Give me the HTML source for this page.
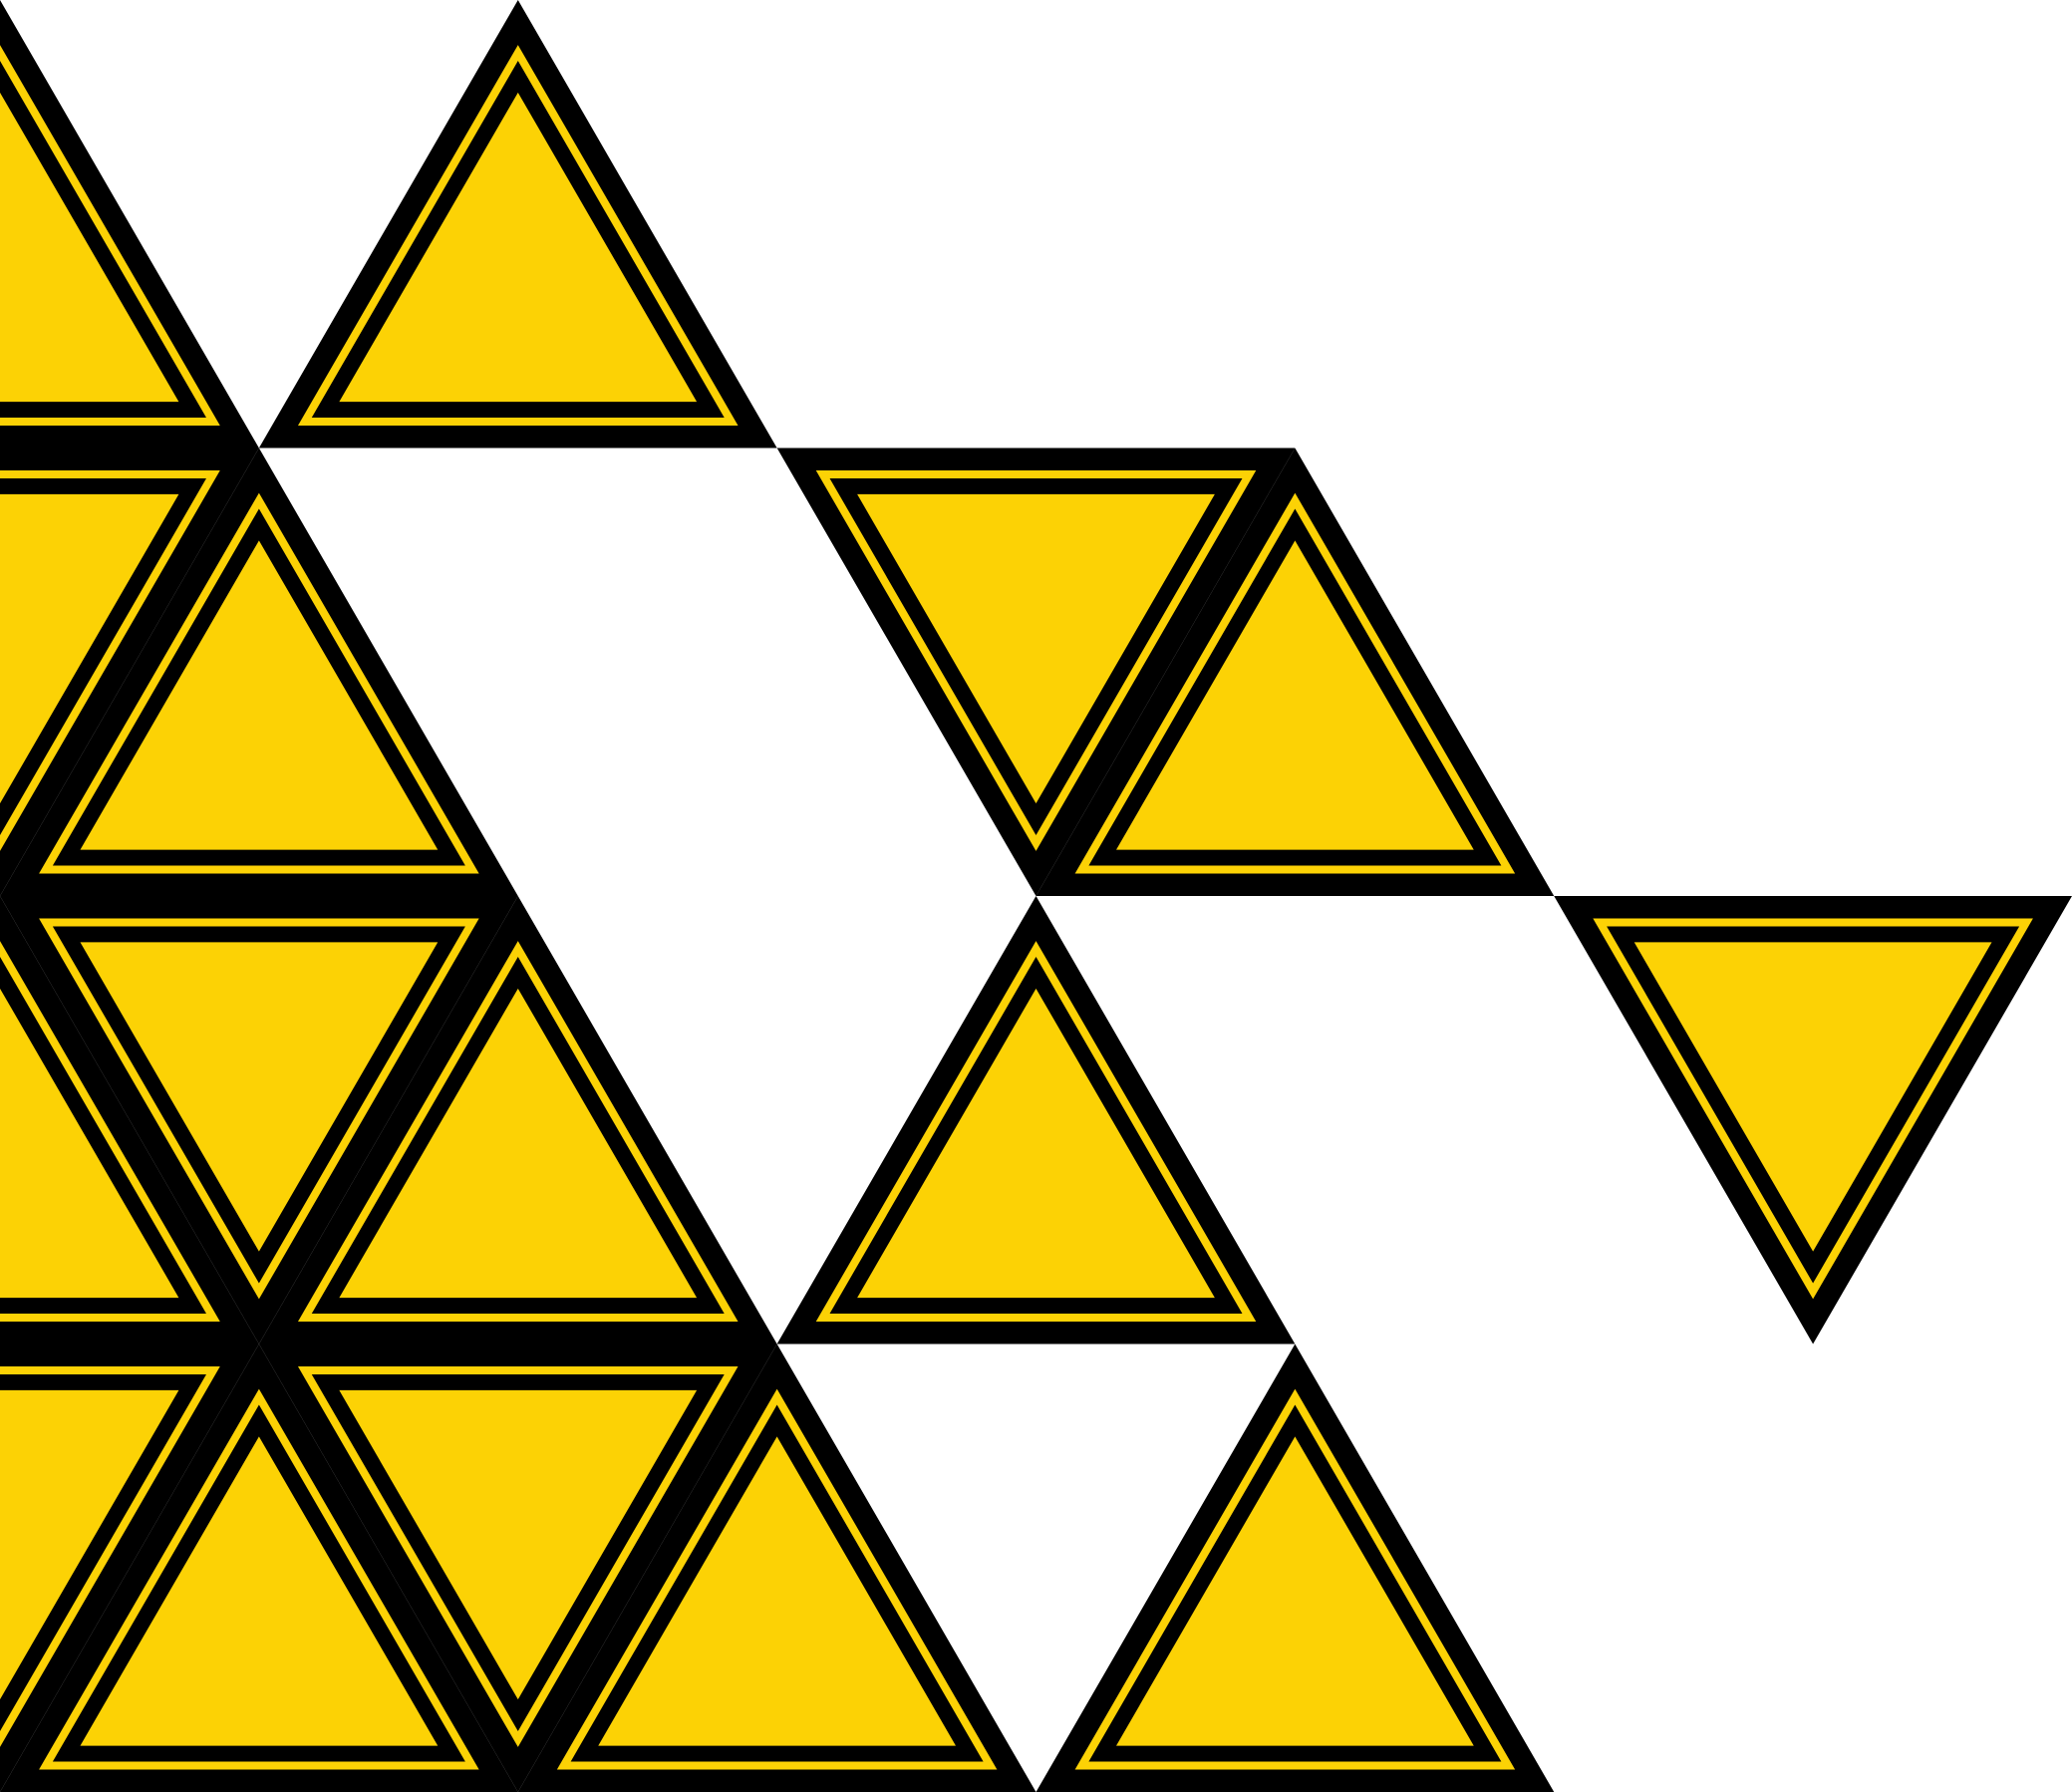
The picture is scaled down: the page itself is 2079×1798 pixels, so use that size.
<!DOCTYPE html>
<html><head><meta charset="utf-8"><style>html,body{margin:0;padding:0;background:#fff}svg{display:block}</style></head>
<body>
<svg id="art" width="2079" height="1798" viewBox="0 0 1568 1356" preserveAspectRatio="none" xmlns="http://www.w3.org/2000/svg"></svg>
<script>
// triangles: row index, apex x, orientation (up / down)
const rows = [0,0,1,1,1,1,2,2,2,2,2,3,3,3,3,3];
const apexX = [0,392,0,196,784,980,0,196,392,784,1372,0,196,392,588,980];
const orient = ["up","up","down","up","down","up","up","down","up","up","down","down","up","down","up","up"];
const S = 392, H = 339;
const layers = [[0,"#000"],[17,"#FCD205"],[23,"#000"],[35,"#FCD205"]];
const svg = document.getElementById('art');
const NS = "http://www.w3.org/2000/svg";
for (let i = 0; i < rows.length; i++) {
  const top = rows[i]*H, bot = top + H, ax = apexX[i];
  let pts;
  if (orient[i] === "up") pts = [[ax, top],[ax - S/2, bot],[ax + S/2, bot]];
  else pts = [[ax, bot],[ax - S/2, top],[ax + S/2, top]];
  const cx = (pts[0][0]+pts[1][0]+pts[2][0])/3, cy = (pts[0][1]+pts[1][1]+pts[2][1])/3;
  const r = H/3;
  const g = document.createElementNS(NS, 'g');
  
  
  for (const [d, col] of layers) {
    const k = (r - d)/r;
    const p = document.createElementNS(NS, 'polygon');
    
    
    p.setAttribute('points', pts.map(q => (cx + (q[0]-cx)*k) + ',' + (cy + (q[1]-cy)*k)).join(' '));
    p.setAttribute('fill', col);
    g.appendChild(p);
  }
  svg.appendChild(g);
}
</script>
</body></html>
